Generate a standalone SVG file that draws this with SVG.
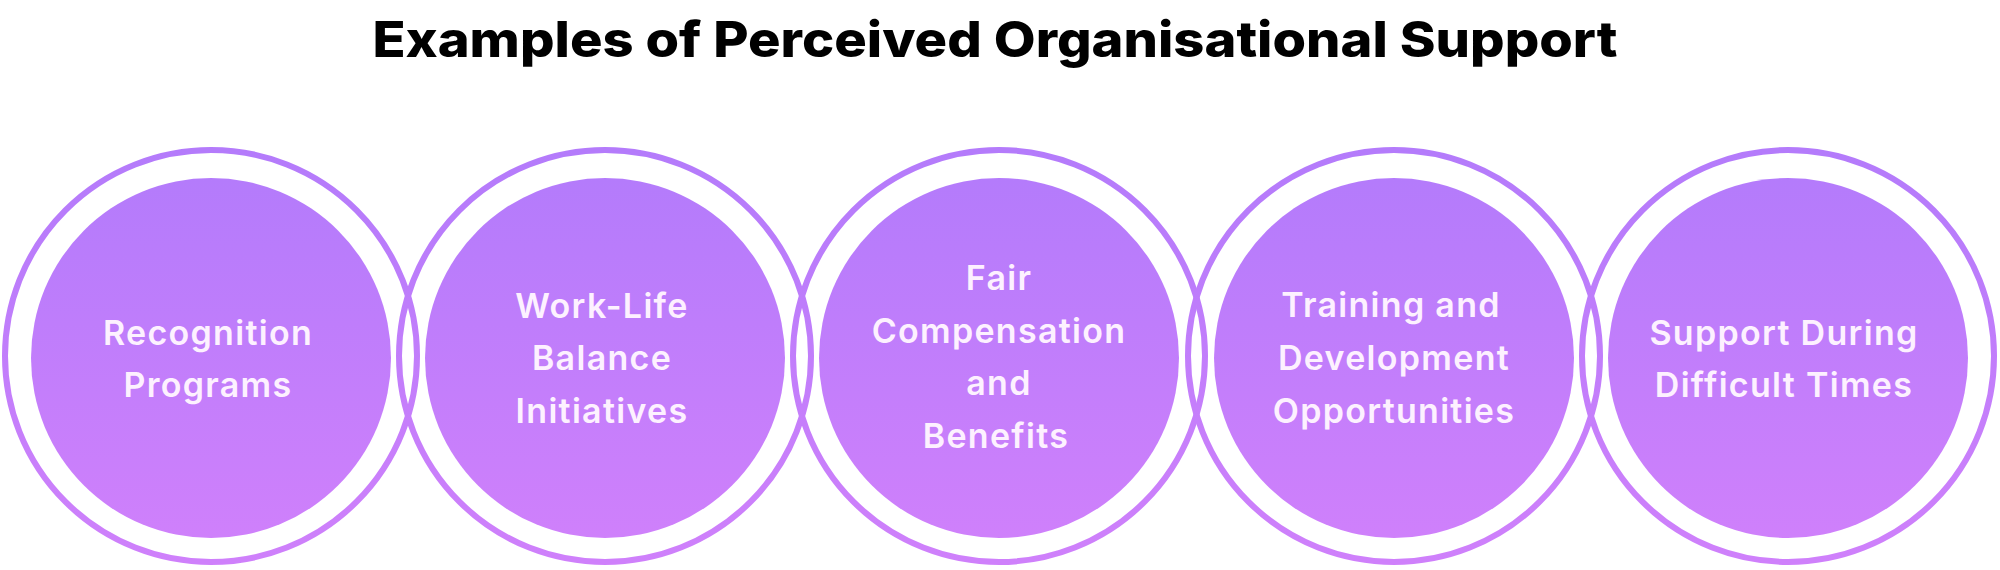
<svg xmlns="http://www.w3.org/2000/svg" width="2000" height="570" viewBox="0 0 2000 570">
  <defs>
    <linearGradient id="g" x1="0" y1="0" x2="0" y2="1">
      <stop offset="0" stop-color="#b47bfb"/>
      <stop offset="1" stop-color="#cf80fb"/>
    </linearGradient>
    <style>
      .ring { fill: none; stroke: url(#g); stroke-width: 6; }
      .core { fill: url(#g); }
      .lbl { font-family: Inter, "Open Sans", "Liberation Sans", sans-serif; font-weight: 600; font-size: 34px; letter-spacing: 1.3px; fill: #fdf1ff; text-anchor: middle; }
      .title { font-family: Inter, "Liberation Sans", sans-serif; font-weight: 800; font-size: 50px; fill: #000000; text-anchor: middle; }
    </style>
  </defs>
  <rect width="2000" height="570" fill="#ffffff"/>
  <text class="title" x="995" y="57" textLength="1245" lengthAdjust="spacingAndGlyphs">Examples of Perceived Organisational Support</text>

  <g id="connectors"></g>

  <g id="node1">
    <circle class="ring" cx="211" cy="356" r="206"/>
    <circle class="core" cx="211" cy="358" r="180"/>
    <text class="lbl" x="208" y="345">Recognition</text>
    <text class="lbl" x="208" y="397">Programs</text>
  </g>
  <g id="node2">
    <circle class="ring" cx="605" cy="356" r="206"/>
    <circle class="core" cx="605" cy="358" r="180"/>
    <text class="lbl" x="602" y="318">Work-Life</text>
    <text class="lbl" x="602" y="370">Balance</text>
    <text class="lbl" x="602" y="423">Initiatives</text>
  </g>
  <g id="node3">
    <circle class="ring" cx="999" cy="356" r="206"/>
    <circle class="core" cx="999" cy="358" r="180"/>
    <text class="lbl" x="999" y="290">Fair</text>
    <text class="lbl" x="999" y="343">Compensation</text>
    <text class="lbl" x="999" y="395">and</text>
    <text class="lbl" x="996" y="448">Benefits</text>
  </g>
  <g id="node4">
    <circle class="ring" cx="1394" cy="356" r="206"/>
    <circle class="core" cx="1394" cy="358" r="180"/>
    <text class="lbl" x="1391" y="317">Training and</text>
    <text class="lbl" x="1394" y="370">Development</text>
    <text class="lbl" x="1394" y="423">Opportunities</text>
  </g>
  <g id="node5">
    <circle class="ring" cx="1788" cy="356" r="206"/>
    <circle class="core" cx="1788" cy="358" r="180"/>
    <text class="lbl" x="1784" y="345">Support During</text>
    <text class="lbl" x="1784" y="397">Difficult Times</text>
  </g>
</svg>
